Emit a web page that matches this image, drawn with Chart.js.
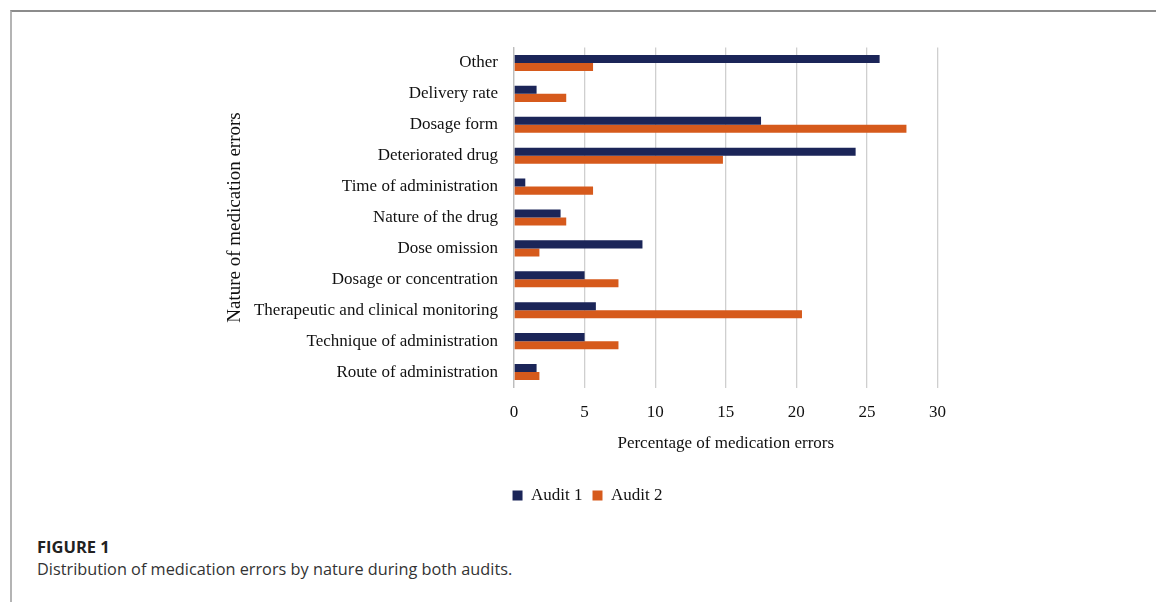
<!DOCTYPE html>
<html>
<head>
<meta charset="utf-8">
<script src="https://cdn.jsdelivr.net/npm/chart.js@4/dist/chart.umd.min.js"></script>
<style>
  html, body { margin: 0; padding: 0; background: #fff; }
  body { width: 1156px; height: 602px; position: relative; overflow: hidden; }
  .frame {
    position: absolute; left: 10px; top: 10px; right: 0; bottom: 0;
    border-top: 2px solid #8c8c8c; border-left: 2px solid #b4b4b4;
  }
  .chart-box { position: absolute; left: 214px; top: 0; width: 747px; height: 514px; }
  .fig-label {
    position: absolute; left: 37px; top: 535px;
    font: bold 16.5px "Open Sans", sans-serif; color: #222;
  }
  .fig-caption {
    position: absolute; left: 37px; top: 558px;
    font: 16.3px "Open Sans", sans-serif; color: #333;
  }
</style>
</head>
<body>
<div class="frame"></div>
<div class="chart-box"><canvas id="myChart"></canvas></div>
<div class="fig-label">FIGURE 1</div>
<div class="fig-caption">Distribution of medication errors by nature during both audits.</div>

<script>
// categories listed top to bottom as they appear on the chart
var categories = [
  'Other',
  'Delivery rate',
  'Dosage form',
  'Deteriorated drug',
  'Time of administration',
  'Nature of the drug',
  'Dose omission',
  'Dosage or concentration',
  'Therapeutic and clinical monitoring',
  'Technique of administration',
  'Route of administration'
];
var audit1 = [25.9, 1.6, 17.5, 24.2, 0.8, 3.3, 9.1, 5.0, 5.8, 5.0, 1.6];
var audit2 = [5.6, 3.7, 27.8, 14.8, 5.6, 3.7, 1.8, 7.4, 20.4, 7.4, 1.8];
var seriesNames = ['Audit 1', 'Audit 2'];
var xTicks = [0, 5, 10, 15, 20, 25, 30];

var serif = '"Liberation Serif", "Times New Roman", serif';
var ctx = document.getElementById('myChart').getContext('2d');

var chart = new Chart(ctx, {
  type: 'bar',
  data: {
    labels: categories,
    datasets: [{
      label: seriesNames[0],
      data: audit1,
      backgroundColor: '#1b2558',
      borderWidth: 0
    }, {
      label: seriesNames[1],
      data: audit2,
      backgroundColor: '#d65a1c',
      borderWidth: 0
    }]
  },
  options: {
    indexAxis: 'y',
    responsive: true,
    maintainAspectRatio: false,
    animation: false,
    categoryPercentage: 0.52,
    barPercentage: 1.0,
    layout: { padding: { top: 47.5, left: 0, right: 0, bottom: 0 } },
    plugins: {
      tooltip: { enabled: false },
      legend: {
        position: 'bottom',
        labels: {
          color: '#111',
          font: { family: serif, size: 17 },
          boxWidth: 10,
          boxHeight: 10,
          padding: 10
        }
      }
    },
    scales: {
      x: {
        min: xTicks[0],
        max: xTicks[xTicks.length - 1],
        afterBuildTicks: function (scale) {
          scale.ticks = xTicks.map(function (v) { return { value: v }; });
        },
        afterFit: function (scale) { scale.height = 89.5; },
        grid: { color: '#cfcfcf', lineWidth: 1.3, drawTicks: false },
        border: { display: false },
        ticks: {
          color: '#111',
          font: { family: serif, size: 17 },
          padding: 15
        },
        title: {
          display: true,
          text: 'Percentage of medication errors',
          color: '#111',
          font: { family: serif, size: 17 },
          padding: { top: 0, bottom: 23 }
        }
      },
      y: {
        afterFit: function (scale) { scale.width = 300; },
        grid: { display: false, drawTicks: false },
        border: { display: true, color: '#bdbdbd', width: 1.3 },
        ticks: {
          color: '#111',
          font: { family: serif, size: 17 },
          padding: 16,
          autoSkip: false
        },
        title: {
          display: true,
          text: 'Nature of medication errors',
          color: '#111',
          font: { family: serif, size: 19 },
          padding: { top: 9.6, bottom: 0 }
        }
      }
    }
  }
});
</script>
</body>
</html>
